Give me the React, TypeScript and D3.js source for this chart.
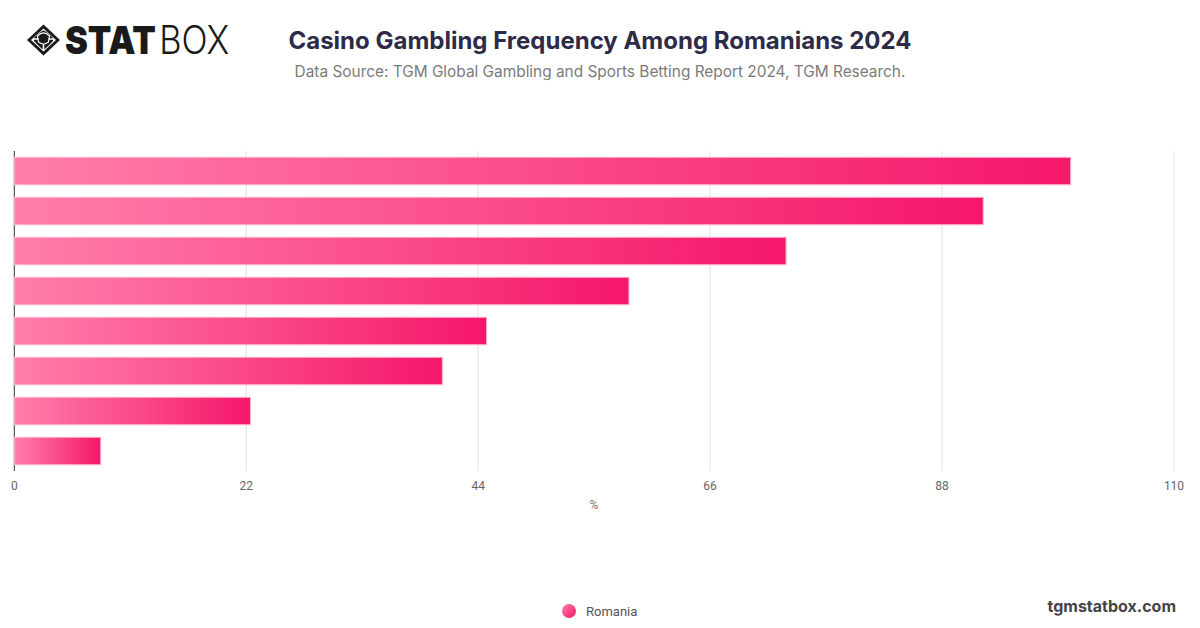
import React from "react";
import * as d3 from "d3";

const categories = ["C1", "C2", "C3", "C4", "C5", "C6", "C7", "C8"];
const values = [100.2, 91.9, 73.2, 58.3, 44.8, 40.6, 22.4, 8.2];
const xTicks = [0, 22, 44, 66, 88, 110];
const seriesName = "Romania";
const title = "Casino Gambling Frequency Among Romanians 2024";
const subtitle = "Data Source: TGM Global Gambling and Sports Betting Report 2024, TGM Research.";

const W = 1200;
const H = 628;

export default function App() {
  const x = d3.scaleLinear().domain([0, 110]).range([14.3, 1174]);
  const y = d3
    .scaleBand<string>()
    .domain(categories)
    .range([151, 471])
    .paddingInner(0.3125)
    .paddingOuter(0.15625);
  const [y0, y1] = y.range();

  return (
    <svg
      width={W}
      height={H}
      viewBox={`0 0 ${W} ${H}`}
      style={{ position: "absolute", left: 0, top: 0, background: "#fff" }}
      fontFamily="Inter, 'Noto Sans', sans-serif"
    >
      <defs>
        <linearGradient id="barGrad" x1="0" y1="0" x2="1" y2="0">
          <stop offset="0%" stopColor="#ff7eab" />
          <stop offset="100%" stopColor="#f5176a" />
        </linearGradient>
        <linearGradient id="dotGrad" x1="0" y1="0" x2="1" y2="1">
          <stop offset="0%" stopColor="#ff7eab" />
          <stop offset="100%" stopColor="#f5176a" />
        </linearGradient>
      </defs>
      <rect width={W} height={H} fill="#fff" />

      {/* Logo */}
      <g transform="translate(43.5,40)">
        <path d="M0,-15.5 L16.5,0 L0,15.5 L-16.5,0 Z" fill="#1a1a1a" />
        <path d="M0,-11.5 L12.5,0 L0,11.5 L-12.5,0 Z" fill="#fff" />
        <path
          d="M0,-9.5 Q4,-8 9.5,-2 L9.5,1 Q4,7 0,10 Q-4,7 -9.5,1 L-9.5,-2 Q-4,-8 0,-9.5 Z"
          fill="#1a1a1a"
        />
        <path d="M-10,-1 L-5,-1 M10,-1 L5,-1 M0,4 L0,11" stroke="#fff" strokeWidth={1.6} />
        <path d="M-6,-4 Q0,-10 6,-4 L5,2 Q0,6 -5,2 Z" fill="none" stroke="#fff" strokeWidth={1.2} />
      </g>
      <g transform="translate(65,54) scale(0.88,1)" fontFamily="Inter, sans-serif" fontSize={39} fill="#1a1a1a">
        <text x={0} y={0} fontWeight={900}>
          STAT
        </text>
        <text x={107} y={0} fontWeight={300}>
          BOX
        </text>
      </g>

      {/* Title */}
      <text x={600} y={49} textAnchor="middle" fontSize={24} fontWeight={700} fill="#2e2b48">
        {title}
      </text>
      <text x={600} y={77} textAnchor="middle" fontSize={15.4} fill="#7b7b7b">
        {subtitle}
      </text>

      {/* Grid */}
      {xTicks.map((t) => (
        <line
          key={"g" + t}
          x1={x(t)}
          x2={x(t)}
          y1={y0}
          y2={y1}
          stroke={t === 0 ? "#333" : "#e1e1e1"}
          strokeWidth={1}
        />
      ))}

      {/* Bars */}
      {categories.map((c, i) => (
        <rect
          key={c}
          x={x(0)}
          y={y(c)}
          width={x(values[i]) - x(0)}
          height={y.bandwidth()}
          fill="url(#barGrad)"
          stroke="#ffb6cf"
          strokeWidth={1}
        />
      ))}

      {/* Tick labels */}
      {xTicks.map((t) => (
        <text
          key={"t" + t}
          x={x(t)}
          y={490}
          textAnchor="middle"
          fontFamily="Roboto, sans-serif"
          fontSize={12}
          fill="#666"
        >
          {t}
        </text>
      ))}
      <text x={594} y={509} textAnchor="middle" fontFamily="Roboto, sans-serif" fontSize={12} fill="#777">
        %
      </text>

      {/* Legend */}
      <circle cx={569} cy={611} r={7} fill="url(#dotGrad)" />
      <text x={586} y={615.5} fontFamily="Roboto, sans-serif" fontSize={13} fill="#555">
        {seriesName}
      </text>

      <text x={1176} y={612} textAnchor="end" fontSize={16} fontWeight={700} fill="#444">
        tgmstatbox.com
      </text>
    </svg>
  );
}
